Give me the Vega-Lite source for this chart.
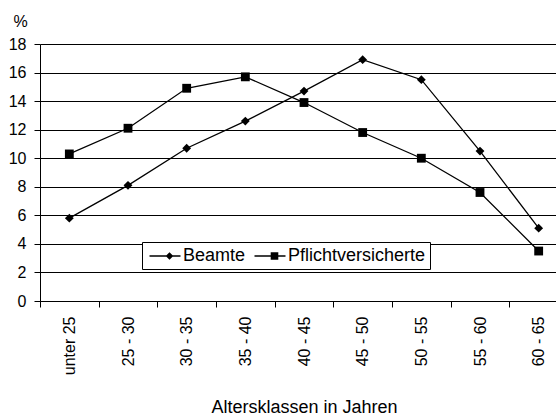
{
  "$schema": "https://vega.github.io/schema/vega-lite/v6.json",
  "width": 516,
  "height": 257,
  "autosize": {"type": "none"},
  "padding": {"left": 40, "top": 44, "right": 0, "bottom": 115},
  "background": "white",
  "config": {"font": "Liberation Sans", "view": {"stroke": null}},
  "data": {"values": [
    {"klasse": "unter 25", "serie": "Beamte", "wert": 5.8},
    {"klasse": "25 - 30", "serie": "Beamte", "wert": 8.1},
    {"klasse": "30 - 35", "serie": "Beamte", "wert": 10.7},
    {"klasse": "35 - 40", "serie": "Beamte", "wert": 12.6},
    {"klasse": "40 - 45", "serie": "Beamte", "wert": 14.7},
    {"klasse": "45 - 50", "serie": "Beamte", "wert": 16.9},
    {"klasse": "50 - 55", "serie": "Beamte", "wert": 15.5},
    {"klasse": "55 - 60", "serie": "Beamte", "wert": 10.5},
    {"klasse": "60 - 65", "serie": "Beamte", "wert": 5.1},
    {"klasse": "unter 25", "serie": "Pflichtversicherte", "wert": 10.3},
    {"klasse": "25 - 30", "serie": "Pflichtversicherte", "wert": 12.1},
    {"klasse": "30 - 35", "serie": "Pflichtversicherte", "wert": 14.9},
    {"klasse": "35 - 40", "serie": "Pflichtversicherte", "wert": 15.7},
    {"klasse": "40 - 45", "serie": "Pflichtversicherte", "wert": 13.9},
    {"klasse": "45 - 50", "serie": "Pflichtversicherte", "wert": 11.8},
    {"klasse": "50 - 55", "serie": "Pflichtversicherte", "wert": 10.0},
    {"klasse": "55 - 60", "serie": "Pflichtversicherte", "wert": 7.6},
    {"klasse": "60 - 65", "serie": "Pflichtversicherte", "wert": 3.5}
  ]},
  "encoding": {
    "x": {
      "field": "klasse", "type": "nominal",
      "sort": ["unter 25", "25 - 30", "30 - 35", "35 - 40", "40 - 45", "45 - 50", "50 - 55", "55 - 60", "60 - 65"],
      "scale": {"type": "band", "paddingInner": 0, "paddingOuter": 0, "range": [0, 528]},
      "axis": {
        "title": "Altersklassen in Jahren", "titleFontSize": 18, "titleFontWeight": "normal", "titleColor": "black",
        "titleY": 111, "titleBaseline": "alphabetic",
        "labelAngle": -90, "labelFontSize": 16, "labelColor": "black", "labelPadding": 9,
        "tickBand": "extent", "tickSize": 6, "tickColor": "black", "domainColor": "black", "grid": false
      }
    },
    "y": {
      "field": "wert", "type": "quantitative",
      "scale": {"domain": [0, 18], "nice": false},
      "axis": {
        "values": [0, 2, 4, 6, 8, 10, 12, 14, 16, 18],
        "title": "%", "titleAngle": 0, "titleX": -20, "titleY": -18, "titleAlign": "center", "titleBaseline": "alphabetic",
        "titleFontSize": 16, "titleFontWeight": "normal", "titleColor": "black",
        "labelFontSize": 16, "labelColor": "black", "labelPadding": 8,
        "tickSize": 6, "tickColor": "black", "domainColor": "black",
        "grid": true, "gridColor": "black", "gridWidth": 1
      }
    }
  },
  "layer": [
    {"mark": {"type": "line", "color": "black", "strokeWidth": 1.3}, "encoding": {"detail": {"field": "serie"}}},
    {"mark": {"type": "point", "filled": true, "opacity": 1, "color": "black", "size": 78},
     "encoding": {"shape": {"field": "serie", "type": "nominal",
       "scale": {"domain": ["Beamte", "Pflichtversicherte"], "range": ["diamond", "square"]}, "legend": null}}},
    {"mark": {"type": "point", "filled": true, "opacity": 0, "color": "black"},
     "encoding": {"shape": {"field": "serie", "type": "nominal",
       "scale": {"domain": ["Beamte", "Pflichtversicherte"],
         "range": ["M-0.65,-0.065L2.45,-0.065L2.45,0.065L-0.65,0.065ZM1.35,-0.38L1.73,0L1.35,0.38L0.97,0Z", "M-0.65,-0.065L2.45,-0.065L2.45,0.065L-0.65,0.065ZM0.97,-0.38L1.73,-0.38L1.73,0.38L0.97,0.38Z"]},
       "legend": {
         "title": null, "orient": "none", "legendX": 102, "legendY": 198, "direction": "horizontal",
         "strokeColor": "black", "fillColor": "white", "padding": 4,
         "symbolSize": 400, "symbolStrokeWidth": 0, "symbolFillColor": "black", "symbolOpacity": 1,
         "labelFontSize": 18, "labelColor": "black", "labelOffset": 17, "columnPadding": 5, "labelFont": "Liberation Sans",
         "encode": {"symbols": {"update": {
           "fill": {"value": "black"}, "strokeWidth": {"value": 0},
           "opacity": {"value": 1}, "fillOpacity": {"value": 1}
         }}}
       }}}}
  ],
  "resolve": {"scale": {"shape": "independent"}}
}
